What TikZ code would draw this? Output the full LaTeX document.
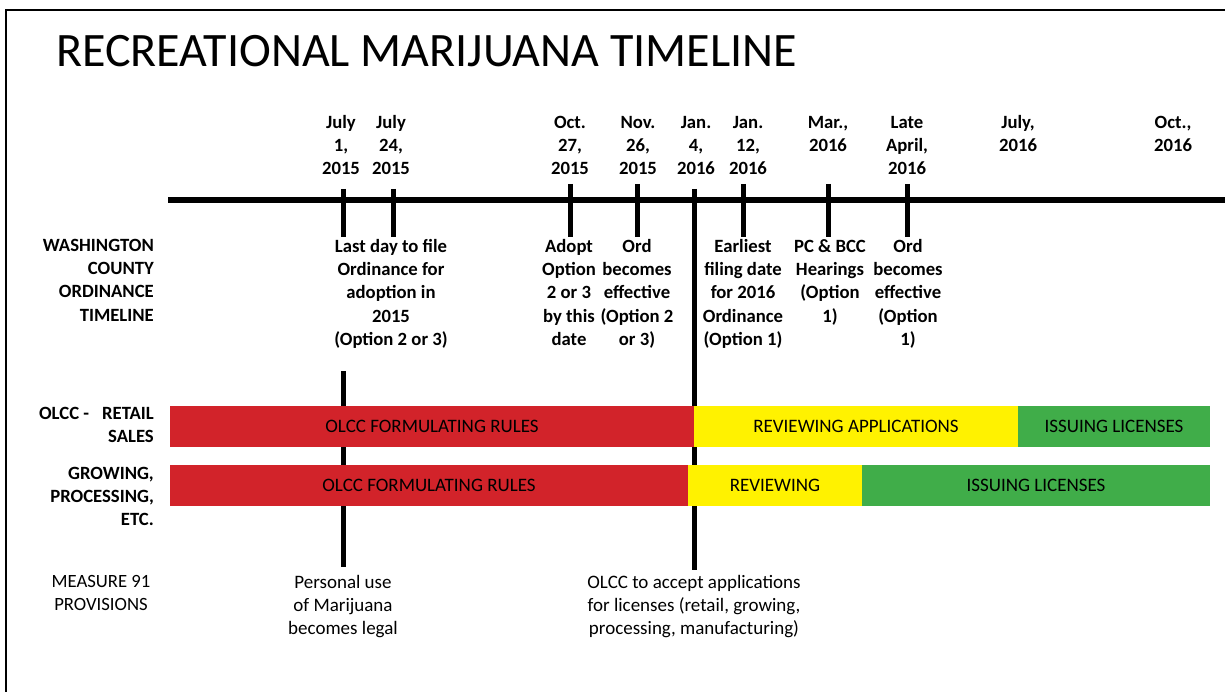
\documentclass[tikz,border=0pt]{standalone}
\usepackage{fontspec}
\setmainfont{Carlito}
\definecolor{barred}{RGB}{210,35,42}
\definecolor{baryellow}{RGB}{255,242,0}
\definecolor{bargreen}{RGB}{64,173,73}
\begin{document}
\begin{tikzpicture}[x=1pt,y=-1pt,
  lbl/.style={inner sep=0pt, align=center, anchor=north, font=\fontsize{18.7}{23.3}\selectfont\bfseries},
  side/.style={inner sep=0pt, align=right, anchor=north east, font=\fontsize{18.7}{23.3}\selectfont\bfseries},
  plain/.style={inner sep=0pt, align=center, anchor=north, font=\fontsize{19}{23.3}\selectfont},
  bar/.style={inner sep=0pt, minimum height=41pt, font=\fontsize{19}{23}\selectfont},
  tickline/.style={line width=5pt},
  axisline/.style={line width=6pt}
]
\useasboundingbox (0,0) rectangle (1225,692);
% frame
\draw[line width=2.5pt] (6,692) -- (6,10) -- (1225,10);
% title
\node[anchor=base west, inner sep=0pt, font=\fontsize{48}{58}\selectfont] (title) at (56,67) {RECREATIONAL MARIJUANA TIMELINE};
% axis
\coordinate (axL) at (168,200);
\coordinate (axR) at (1225,200);
\draw[axisline] (axL) -- (axR);
% ticks
\coordinate (a1) at (343,189); \coordinate (b1) at (343,237);
\coordinate (a2) at (393,189); \coordinate (b2) at (393,237);
\coordinate (a3) at (570,184); \coordinate (b3) at (570,237);
\coordinate (a4) at (637,184); \coordinate (b4) at (637,237);
\coordinate (a5) at (694,189); \coordinate (b5) at (694,570);
\coordinate (a6) at (743,184); \coordinate (b6) at (743,237);
\coordinate (a7) at (828,184); \coordinate (b7) at (828,237);
\coordinate (a8) at (907,184); \coordinate (b8) at (907,237);
\coordinate (c1) at (343,371); \coordinate (d1) at (343,567);
\foreach \i in {1,...,8} {\draw[tickline] (a\i) -- (b\i);}
\draw[tickline] (c1) -- (d1);
% dates
\node[lbl] (dt1) at (341,111.7) {\strut July\\1,\\2015};
\node[lbl] (dt2) at (391,111.7) {\strut July\\24,\\2015};
\node[lbl] (dt3) at (570,111.7) {\strut Oct.\\27,\\2015};
\node[lbl] (dt4) at (638,111.7) {\strut Nov.\\26,\\2015};
\node[lbl] (dt5) at (696,111.7) {\strut Jan.\\4,\\2016};
\node[lbl] (dt6) at (748,111.7) {\strut Jan.\\12,\\2016};
\node[lbl] (dt7) at (828,111.7) {\strut Mar.,\\2016};
\node[lbl] (dt8) at (907,111.7) {\strut Late\\April,\\2016};
\node[lbl] (dt9) at (1018,111.7) {\strut July,\\2016};
\node[lbl] (dt10) at (1173,111.7) {\strut Oct.,\\2016};
% event labels
\node[lbl] (ev1) at (391,235.7) {\strut Last day to file\\Ordinance for\\adoption in\\2015\\(Option 2 or 3)};
\node[lbl] (ev2) at (569,235.7) {\strut Adopt\\Option\\2 or 3\\by this\\date};
\node[lbl] (ev3) at (637,235.7) {\strut Ord\\becomes\\effective\\(Option 2\\or 3)};
\node[lbl] (ev4) at (743,235.7) {\strut Earliest\\filing date\\for 2016\\Ordinance\\(Option 1)};
\node[lbl] (ev5) at (830,235.7) {\strut PC \& BCC\\Hearings\\(Option\\1)};
\node[lbl] (ev6) at (908,235.7) {\strut Ord\\becomes\\effective\\(Option\\1)};
% side labels
\node[side] (s1) at (154,234.7) {\strut WASHINGTON\\COUNTY\\ORDINANCE\\TIMELINE};
\node[side] (s2) at (154,402.7) {\strut OLCC -\hspace*{13pt}RETAIL\\SALES};
\node[side] (s3) at (154,462.7) {\strut GROWING,\\PROCESSING,\\ETC.};
\node[plain, font=\fontsize{18.7}{23.3}\selectfont] (s4) at (101,570.7) {\strut MEASURE 91\\PROVISIONS};
% bars
\node[bar, fill=barred, minimum width=524pt] (r1) at (432,426.5) {OLCC FORMULATING RULES};
\node[bar, fill=baryellow, minimum width=324pt] (y1) at (856,426.5) {REVIEWING APPLICATIONS};
\node[bar, fill=bargreen, minimum width=192pt] (g1) at (1114,426.5) {ISSUING LICENSES};
\node[bar, fill=barred, minimum width=518pt] (r2) at (429,485.5) {OLCC FORMULATING RULES};
\node[bar, fill=baryellow, minimum width=174pt] (y2) at (775,485.5) {REVIEWING};
\node[bar, fill=bargreen, minimum width=348pt] (g2) at (1036,485.5) {ISSUING LICENSES};
% bottom texts
\node[plain] (m1) at (343,571.7) {\strut Personal use\\of Marijuana\\becomes legal};
\node[plain] (m2) at (694,571.7) {\strut OLCC to accept applications\\for licenses (retail, growing,\\processing, manufacturing)};
\end{tikzpicture}
\end{document}
